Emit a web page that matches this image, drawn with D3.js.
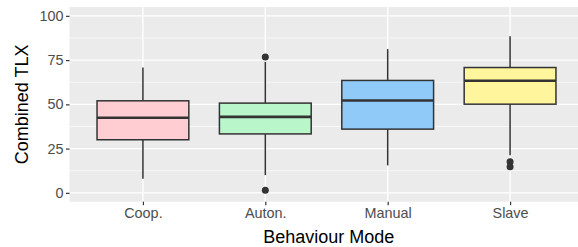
<!DOCTYPE html>
<html>
<head>
<meta charset="utf-8">
<script src="https://cdn.jsdelivr.net/npm/d3@7"></script>
<style>
  body { margin: 0; background: #fff; }
  svg { display: block; font-family: "Liberation Sans", Arial, sans-serif; }
</style>
</head>
<body>
<div id="chart"></div>
<script>
// box summaries
const categories = ["Coop.", "Auton.", "Manual", "Slave"];
const lowerWhisker = [8, 10, 15.5, 21.3];
const q1 = [30, 33.3, 36, 50.1];
const median = [42.4, 42.9, 52.2, 63.3];
const q3 = [52, 50.7, 63.5, 70.8];
const upperWhisker = [70.8, 74, 81.2, 88.5];
const outliers = [[], [76.8, 1.5], [], [17.6, 14.8]];
const yTicks = [0, 25, 50, 75, 100];
const yMinor = [12.5, 37.5, 62.5, 87.5];

const fills = ["#FFCDD2", "#B9F6CA", "#90CAF9", "#FFF59D"];

const W = 578, H = 247;
const panel = {left: 69.5, top: 7, bottom: 201.7, right: 578};

const svg = d3.select("#chart").append("svg")
  .attr("width", W).attr("height", H);

// discrete x in ggplot units (1..n, expanded by 0.6)
const x = d3.scaleLinear().domain([0.4, categories.length + 0.6]).range([panel.left, 583.5]);
const y = d3.scaleLinear().domain([-5, 105]).range([panel.bottom, panel.top]);
const step = x(2) - x(1);
const boxW = step * 0.75;

const data = categories.map((c, i) => ({
  cat: c, i: i + 1, lo: lowerWhisker[i], q1: q1[i], med: median[i],
  q3: q3[i], hi: upperWhisker[i], out: outliers[i], fill: fills[i]
}));

// panel background
svg.append("rect")
  .attr("x", panel.left).attr("y", panel.top)
  .attr("width", panel.right - panel.left).attr("height", panel.bottom - panel.top)
  .attr("fill", "#EBEBEB");

// grid
svg.selectAll(".minor").data(yMinor).enter().append("line")
  .attr("x1", panel.left).attr("x2", panel.right)
  .attr("y1", d => y(d)).attr("y2", d => y(d))
  .attr("stroke", "#fff").attr("stroke-width", 0.6);
svg.selectAll(".major").data(yTicks).enter().append("line")
  .attr("x1", panel.left).attr("x2", panel.right)
  .attr("y1", d => y(d)).attr("y2", d => y(d))
  .attr("stroke", "#fff").attr("stroke-width", 1.3);
svg.selectAll(".vgrid").data(data).enter().append("line")
  .attr("x1", d => x(d.i)).attr("x2", d => x(d.i))
  .attr("y1", panel.top).attr("y2", panel.bottom)
  .attr("stroke", "#fff").attr("stroke-width", 1.3);

// axes
const yAxis = d3.axisLeft(y).tickValues(yTicks).tickSize(3.5).tickPadding(2.5);
const gy = svg.append("g").attr("transform", `translate(${panel.left},0)`).call(yAxis);
gy.select(".domain").remove();
gy.selectAll("line").attr("stroke", "#333").attr("stroke-width", 1.2);
gy.selectAll("text").attr("fill", "#4D4D4D").style("font-size", "14.4px");

const xAxis = d3.axisBottom(x).tickValues(data.map(d => d.i))
  .tickFormat(i => categories[i - 1]).tickSize(3.5).tickPadding(3);
const gx = svg.append("g").attr("transform", `translate(0,${panel.bottom})`).call(xAxis);
gx.select(".domain").remove();
gx.selectAll("line").attr("stroke", "#333").attr("stroke-width", 1.2);
gx.selectAll("text").attr("fill", "#4D4D4D").style("font-size", "14.4px");

// boxes
const g = svg.selectAll(".box").data(data).enter().append("g");
g.append("line")
  .attr("x1", d => x(d.i)).attr("x2", d => x(d.i))
  .attr("y1", d => y(d.hi)).attr("y2", d => y(d.q3))
  .attr("stroke", "#333").attr("stroke-width", 1.5);
g.append("line")
  .attr("x1", d => x(d.i)).attr("x2", d => x(d.i))
  .attr("y1", d => y(d.q1)).attr("y2", d => y(d.lo))
  .attr("stroke", "#333").attr("stroke-width", 1.5);
g.append("rect")
  .attr("x", d => x(d.i) - boxW / 2).attr("width", boxW)
  .attr("y", d => y(d.q3)).attr("height", d => y(d.q1) - y(d.q3))
  .attr("fill", d => d.fill).attr("stroke", "#333").attr("stroke-width", 1.5);
g.append("line")
  .attr("x1", d => x(d.i) - boxW / 2).attr("x2", d => x(d.i) + boxW / 2)
  .attr("y1", d => y(d.med)).attr("y2", d => y(d.med))
  .attr("stroke", "#333").attr("stroke-width", 2.6);
g.selectAll("circle").data(d => d.out.map(v => ({i: d.i, v}))).enter().append("circle")
  .attr("cx", d => x(d.i)).attr("cy", d => y(d.v)).attr("r", 3.5)
  .attr("fill", "#333");

// titles
svg.append("text")
  .attr("x", (panel.left + 578) / 2 + 5).attr("y", 243)
  .attr("text-anchor", "middle").attr("fill", "#000")
  .style("font-size", "18px").text("Behaviour Mode");
svg.append("text")
  .attr("transform", `translate(27.5,${(panel.top + panel.bottom) / 2}) rotate(-90)`)
  .attr("text-anchor", "middle").attr("fill", "#000")
  .style("font-size", "18px").text("Combined TLX");
</script>
</body>
</html>
